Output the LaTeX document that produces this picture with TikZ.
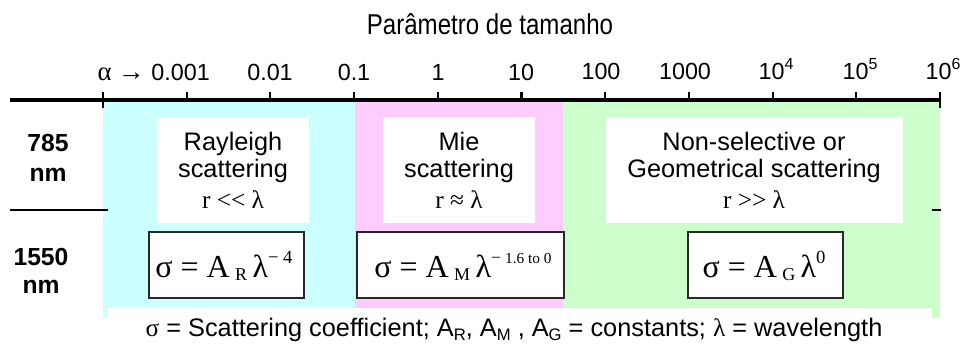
\documentclass[tikz,border=0pt]{standalone}
\usepackage{fontspec}
\setmainfont{Liberation Sans}
\newfontfamily\timesf{Liberation Serif}
\definecolor{cyanbg}{RGB}{204,255,255}
\definecolor{pinkbg}{RGB}{255,204,255}
\definecolor{greenbg}{RGB}{204,255,204}
\definecolor{boxline}{RGB}{40,40,40}
\newcommand{\fsz}[1]{\fontsize{#1}{#1}\selectfont}
\newcommand{\myup}[2]{\raisebox{#1}{\fsz{12}#2}}
\newcommand{\fsub}[1]{\raisebox{-2.6pt}{\fsz{13.5}#1}}
\newcommand{\capsub}[1]{\raisebox{-3pt}{\fsz{12.5}#1}}
\begin{document}
\begin{tikzpicture}[x=0.75pt,y=-0.75pt,
  ticklab/.style={font=\fsz{17.5}, anchor=base, inner sep=0pt},
  rowlab/.style={font=\bfseries\fsz{18.5}, anchor=base, inner sep=0pt},
  boxtext/.style={font=\fsz{19}, anchor=base, inner sep=0pt},
  reltext/.style={font=\timesf\fsz{19}, anchor=base, inner sep=0pt},
  formtext/.style={font=\timesf\fsz{24}, anchor=base, inner sep=0pt},
  whitebox/.style={fill=white, draw=none},
  formbox/.style={fill=white, draw=boxline, line width=1.6pt},
  axisline/.style={line width=2.3pt, black},
  tickmark/.style={line width=1.6pt, black},
  sepline/.style={line width=2.2pt, black}]
\useasboundingbox (0,0) rectangle (966,345);
% background regions
\fill[cyanbg] (103,100) rectangle (355,318);
\fill[pinkbg] (355,100) rectangle (563,318);
\fill[greenbg] (563,100) rectangle (940,318);
\fill[white] (108,308) rectangle (932,345);
% title
\node[font=\fsz{21.5}, anchor=base, inner sep=0pt] (title) at (490,35) {\scalebox{0.84}[1]{Parâmetro de tamanho}};
% axis
\coordinate (axL) at (10,100);
\coordinate (axR) at (940,100);
\draw[axisline] (axL) -- (axR);
\foreach \i in {1,...,9} {
  \draw[tickmark] ({103+83.7*\i},92) -- ({103+83.7*\i},100);
}
\draw[tickmark] (103,92) -- (103,108);
\draw[tickmark] (940,92) -- (940,108);
% separator lines
\coordinate (sepL1) at (10,210);
\coordinate (sepL2) at (108,210);
\coordinate (sepR1) at (932,210);
\coordinate (sepR2) at (941,210);
\draw[sepline] (sepL1) -- (sepL2);
\draw[sepline] (sepR1) -- (sepR2);
% tick labels
\node[ticklab, anchor=base east] (l0) at (210,81) {{\timesf\fsz{20}α →} 0.001};
\node[ticklab] (l1) at (270,81) {0.01};
\node[ticklab] (l2) at (354,81) {0.1};
\node[ticklab] (l3) at (438,81) {1};
\node[ticklab] (l4) at (521,81) {10};
\node[ticklab] (l5) at (601,80) {100};
\node[ticklab] (l6) at (685,80) {1000};
\node[ticklab] (l7) at (776,80) {10\myup{7.5pt}{4}};
\node[ticklab] (l8) at (860,80) {10\myup{7.5pt}{5}};
\node[ticklab] (l9) at (943,80) {10\myup{7.5pt}{6}};
% row labels
\node[rowlab] (r1a) at (48,152) {785};
\node[rowlab] (r1b) at (48,182) {nm};
\node[rowlab] (r2a) at (41,265) {1550};
\node[rowlab] (r2b) at (41,293) {nm};
% white text boxes
\path[whitebox] (157,117) rectangle (309,223);
\path[whitebox] (383,117) rectangle (535,223);
\path[whitebox] (606,117) rectangle (903,223);
\node[boxtext] (ray1) at (233,151) {Rayleigh};
\node[boxtext] (ray2) at (233,178) {scattering};
\node[reltext] (ray3) at (233,209) {r << λ};
\node[boxtext] (mie1) at (459,151) {Mie};
\node[boxtext] (mie2) at (459,178) {scattering};
\node[reltext] (mie3) at (459,209) {r ≈ λ};
\node[boxtext] (geo1) at (754,151) {Non-selective or};
\node[boxtext] (geo2) at (754,178) {Geometrical scattering};
\node[reltext] (geo3) at (754,209) {r >> λ};
% formula boxes
\draw[formbox] (149,232) rectangle (304,298);
\draw[formbox] (357,232) rectangle (564,298);
\draw[formbox] (688,232) rectangle (843,298);
\node[formtext] (f1) at (224,277) {σ = A\,\fsub{R}\,λ\raisebox{10pt}{\fsz{14}− 4}};
\node[formtext] (f2) at (463,277) {σ = A\,\fsub{M}\,λ\raisebox{10pt}{\fsz{13}− \fsz{11.5}1.6 to 0}};
\node[formtext] (f3) at (764,277) {σ = A\,\fsub{G}\,λ\raisebox{10pt}{\fsz{14}0}};
% caption
\node[font=\fsz{19}, anchor=base, inner sep=0pt] (cap) at (514,336) {{\timesf σ} = Scattering coefficient; A\capsub{R}, A\capsub{M} , A\capsub{G} = constants; {\timesf λ} = wavelength};
\end{tikzpicture}
\end{document}
